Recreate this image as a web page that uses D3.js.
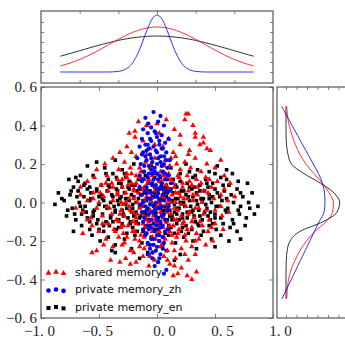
<!DOCTYPE html>
<html><head><meta charset="utf-8">
<script src="https://cdn.jsdelivr.net/npm/d3@7"></script>
<style>body{margin:0;background:#fff}svg{display:block}</style>
</head><body><svg id="c" width="345" height="341"></svg>
<script>
// ---------------- DATA ----------------
const seriesNames = ["shared memory", "private memory_zh", "private memory_en"];

const sharedPoints = [
[0.25,0.46],[0.27,0.46],[0.24,0.43],[0.08,0.43],[-0.16,0.42],[-0.09,0.4],[0.4,0.34],[0.33,0.36],[-0.19,0.37],[0.15,0.38],[0.02,0.36],
[0.33,0.34],[-0.19,0.34],[-0.26,0.29],[0.37,0.3],[0.43,0.28],[0.4,0.31],[-0.12,0.32],[0.2,0.3],[0.28,0.27],[-0.06,0.28],[0.1,0.33],[-0.32,0.26],[0.14,0.26],[0.46,0.27],[-0.22,0.26],[0.05,0.29],
[-0.45,0.2],[-0.38,0.23],[-0.33,0.17],[-0.28,0.21],[-0.23,0.18],[-0.18,0.24],[-0.14,0.16],[-0.1,0.21],[-0.06,0.18],[-0.02,0.23],[0.03,0.16],[0.07,0.22],[0.11,0.19],[0.16,0.24],[0.2,0.17],[0.24,0.21],[0.29,0.18],[0.33,0.23],[0.38,0.16],[0.43,0.2],[0.5,0.18],[-0.52,0.17],[0.27,0.25],[-0.26,0.15],[0.55,0.22],
[-0.6,0.11],[-0.54,0.13],[-0.48,0.09],[-0.43,0.14],[-0.39,0.1],[-0.34,0.12],[-0.3,0.08],[-0.26,0.13],[-0.22,0.1],[-0.18,0.14],[-0.15,0.08],[-0.11,0.12],[-0.08,0.1],[-0.04,0.14],[-0.01,0.08],[0.02,0.11],[0.05,0.14],[0.08,0.09],[0.12,0.12],[0.15,0.08],[0.19,0.13],[0.22,0.1],[0.26,0.14],[0.3,0.09],[0.34,0.12],[0.38,0.1],[0.42,0.13],[0.47,0.08],[0.52,0.11],[0.58,0.14],[0.63,0.1],[-0.66,0.08],[-0.2,0.07],[0.1,0.15],
[-0.66,0.04],[-0.6,0.01],[-0.55,0.05],[-0.5,0.0],[-0.46,0.03],[-0.42,0.06],[-0.38,0.01],[-0.34,0.04],[-0.31,0.0],[-0.27,0.05],[-0.24,0.02],[-0.2,0.06],[-0.17,0.0],[-0.14,0.04],[-0.11,0.01],[-0.08,0.05],[-0.05,0.02],[-0.02,0.06],[0.01,0.0],[0.04,0.03],[0.07,0.06],[0.1,0.01],[0.13,0.04],[0.16,0.0],[0.19,0.05],[0.23,0.02],[0.27,0.06],[0.31,0.01],[0.35,0.04],[0.39,0.0],[0.44,0.05],[0.49,0.02],[0.55,0.04],[0.61,0.01],[0.67,0.03],[-0.29,-0.01],[0.0,0.03],[-0.12,0.07],
[-0.64,-0.05],[-0.57,-0.08],[-0.52,-0.03],[-0.47,-0.07],[-0.43,-0.02],[-0.39,-0.06],[-0.35,-0.09],[-0.31,-0.04],[-0.28,-0.07],[-0.24,-0.02],[-0.21,-0.05],[-0.18,-0.08],[-0.15,-0.03],[-0.12,-0.06],[-0.09,-0.09],[-0.06,-0.04],[-0.03,-0.07],[0.0,-0.02],[0.03,-0.05],[0.06,-0.08],[0.09,-0.03],[0.12,-0.06],[0.15,-0.09],[0.18,-0.04],[0.21,-0.07],[0.25,-0.02],[0.28,-0.05],[0.32,-0.08],[0.36,-0.03],[0.4,-0.06],[0.45,-0.09],[0.5,-0.04],[0.56,-0.07],[0.62,-0.05],[-0.7,-0.03],[0.08,-0.01],[-0.02,-0.09],
[-0.64,-0.16],[-0.56,-0.12],[-0.5,-0.15],[-0.46,-0.22],[-0.42,-0.11],[-0.37,-0.14],[-0.33,-0.1],[-0.29,-0.16],[-0.25,-0.12],[-0.21,-0.15],[-0.18,-0.11],[-0.14,-0.17],[-0.1,-0.13],[-0.07,-0.1],[-0.04,-0.15],[-0.01,-0.12],[0.02,-0.17],[0.05,-0.13],[0.08,-0.1],[0.11,-0.15],[0.14,-0.12],[0.18,-0.16],[0.22,-0.11],[0.26,-0.14],[0.3,-0.1],[0.34,-0.16],[0.39,-0.12],[0.44,-0.15],[0.5,-0.11],[0.57,-0.14],[-0.31,-0.13],
[-0.56,-0.26],[-0.52,-0.25],[-0.44,-0.19],[-0.38,-0.23],[-0.33,-0.18],[-0.28,-0.21],[-0.23,-0.25],[-0.19,-0.19],[-0.15,-0.23],[-0.11,-0.18],[-0.08,-0.22],[-0.04,-0.26],[-0.01,-0.19],[0.03,-0.23],[0.06,-0.18],[0.09,-0.25],[0.13,-0.21],[0.17,-0.18],[0.21,-0.24],[0.25,-0.2],[0.3,-0.23],[0.36,-0.19],[0.42,-0.22],[0.48,-0.2],
[-0.4,-0.3],[-0.32,-0.31],[-0.23,-0.32],[-0.27,-0.29],[-0.18,-0.31],[-0.12,-0.28],[-0.07,-0.33],[-0.02,-0.3],[0.15,-0.33],[0.06,-0.28],[0.11,-0.32],[0.16,-0.29],[0.21,-0.34],[0.27,-0.3],[0.33,-0.27],
[0.3,-0.4],[0.26,-0.38],[0.14,-0.38],[0.18,-0.37],[0.34,-0.36],
[-0.34,0.05],[-0.32,-0.06],[-0.3,0.12],[-0.29,-0.12],[-0.27,0.0],[-0.26,-0.18],[-0.25,0.09],[-0.23,-0.04],[-0.22,0.15],[-0.21,-0.1],[-0.2,0.02],[-0.19,-0.15],[-0.18,0.1],[-0.17,-0.06],[-0.16,0.05],[-0.15,-0.2],[-0.14,0.13],[-0.13,-0.02],[-0.12,-0.11],[-0.11,0.08],[-0.1,-0.16],[-0.09,0.03],[-0.08,-0.07],[-0.07,0.12],[-0.06,-0.13],[-0.05,0.0],[-0.04,-0.18],[-0.03,0.09],[-0.02,-0.04],[-0.01,0.15],[0.0,-0.1],[0.01,0.05],[0.02,-0.15],[0.03,-0.01],[0.04,0.11],[0.05,-0.08],[0.06,0.02],[0.07,-0.19],[0.08,0.13],[0.09,-0.05],[0.1,0.07],[0.11,-0.12],[0.12,0.0],[0.13,-0.17],[0.14,0.1],[0.15,-0.03],[0.16,0.05],[0.17,-0.09],[0.18,0.14],[0.19,-0.14],[0.2,0.03],[0.21,-0.01],[0.22,0.08],[0.23,-0.1],[0.24,-0.17],[0.26,0.02],[0.27,-0.06],[0.28,0.11],[0.3,-0.13],[0.31,0.04],[0.33,-0.03],[0.35,0.08],[-0.36,-0.15],[-0.38,0.08],[-0.41,-0.03],[-0.44,0.1],[-0.47,-0.11],[-0.49,0.05],[0.37,-0.1],[0.4,0.06],[0.42,-0.04],[0.45,0.12],[0.47,-0.13],[-0.05,0.2],[0.06,0.19],[-0.15,0.18],[0.17,0.2],[-0.09,0.25],[0.12,0.23],[-0.02,0.3],[0.2,0.35],[-0.11,-0.24],[0.04,-0.22],[0.15,-0.25],[-0.2,-0.26],[0.24,-0.27],[-0.06,-0.28],[0.09,-0.3],[-0.3,-0.22],[0.33,-0.2],[-0.55,0.02],[0.55,-0.02],[-0.6,-0.09],[0.58,0.07],[0.0,0.41],[0.31,0.4],[-0.24,0.36]
];

const zhPoints = [
[-0.03,0.47],[-0.1,0.44],[0.03,0.45],[-0.075,0.41],[0.01,0.42],[-0.05,0.39],[0.06,0.4],[-0.12,0.38],
[-0.08,0.36],[-0.02,0.37],[0.04,0.35],[-0.13,0.33],[-0.05,0.32],[0.0,0.34],[0.07,0.31],[-0.1,0.3],[-0.03,0.29],[0.02,0.3],[0.1,0.33],[-0.07,0.28],[0.05,0.28],[-0.15,0.29],
[-0.12,0.26],[-0.06,0.25],[-0.01,0.27],[0.03,0.24],[0.08,0.26],[-0.09,0.22],[-0.04,0.21],[0.01,0.23],[0.06,0.2],[0.11,0.22],[-0.14,0.2],[-0.07,0.19],[-0.02,0.18],[0.04,0.19],[-0.1,0.24],[0.09,0.18],[-0.17,0.23],[0.0,0.2],
[-0.11,0.16],[-0.05,0.17],[0.0,0.15],[0.05,0.16],[-0.08,0.13],[-0.03,0.12],[0.02,0.14],[0.07,0.12],[-0.13,0.11],[-0.06,0.1],[-0.01,0.09],[0.04,0.1],[0.1,0.14],[-0.09,0.08],[0.03,0.08],[-0.15,0.14],[0.12,0.1],[-0.04,0.15],
[-0.1,0.06],[-0.05,0.05],[0.0,0.07],[0.05,0.04],[-0.08,0.02],[-0.02,0.03],[0.03,0.01],[0.08,0.06],[-0.12,0.0],[-0.06,-0.01],[-0.01,0.0],[0.04,-0.02],[-0.14,0.04],[0.1,0.02],[-0.03,-0.02],[0.01,0.05],
[-0.09,-0.04],[-0.04,-0.05],[0.01,-0.03],[0.06,-0.06],[-0.11,-0.08],[-0.06,-0.09],[-0.01,-0.07],[0.03,-0.1],[-0.08,-0.12],[-0.03,-0.11],[0.07,-0.09],[-0.13,-0.05],[0.0,-0.12],[0.09,-0.04],
[-0.07,-0.14],[-0.02,-0.15],[0.03,-0.13],[-0.1,-0.17],[-0.05,-0.19],[0.0,-0.17],[0.05,-0.18],[-0.08,-0.21],[-0.03,-0.22],[0.02,-0.2],[-0.12,-0.14],[0.07,-0.15],
[-0.06,-0.24],[-0.01,-0.25],[0.03,-0.27],[-0.04,-0.29],[0.01,-0.31],[-0.08,-0.27],[-0.02,-0.33],[0.08,-0.35],[0.06,-0.37],[0.05,-0.24],
[-0.06,0.33],[0.02,0.32],[-0.09,0.27],[0.0,0.26],[0.06,0.24],[-0.05,0.23],[-0.11,0.19],[0.03,0.21],[-0.02,0.16],[0.07,0.15],[-0.07,0.15],[-0.12,0.12],[0.01,0.12],[-0.04,0.09],[0.05,0.07],[-0.09,0.05],[0.0,0.03],[0.06,0.01],[-0.06,0.02],[-0.1,-0.02],[-0.02,-0.04],[0.04,-0.07],[-0.07,-0.06],[-0.12,-0.1],[0.0,-0.09],[0.05,-0.12],[-0.05,-0.13],[-0.09,-0.16],[0.02,-0.17],[-0.03,-0.19],[0.06,-0.21],[-0.06,-0.22],[0.0,-0.23],[-0.04,-0.26],[0.02,-0.29],[-0.08,0.3],[0.04,0.28],[-0.13,0.25],[0.08,0.22],[-0.01,0.36],[-0.14,-0.01],[0.11,0.06],[0.09,-0.14],[-0.15,0.08],[0.1,-0.02]
];

const enPoints = [
[-0.52,0.21],[-0.36,0.22],[-0.6,0.19],[-0.45,0.18],[-0.3,0.17],[-0.2,0.2],[0.12,0.18],[0.35,0.17],[0.52,0.19],[0.6,0.17],[-0.12,0.16],[0.25,0.2],[0.45,0.16],[-0.76,0.12],[0.65,0.15],[-0.05,0.19],
[-0.7,0.13],[-0.62,0.1],[-0.55,0.14],[-0.48,0.09],[-0.42,0.12],[-0.38,0.15],[-0.33,0.1],[-0.27,0.13],[-0.22,0.09],[-0.16,0.12],[-0.1,0.14],[-0.04,0.1],[0.03,0.13],[0.08,0.09],[0.14,0.12],[0.2,0.15],[0.26,0.1],[0.31,0.13],[0.37,0.09],[0.42,0.12],[0.48,0.1],[0.55,0.13],[0.62,0.09],[0.7,0.11],[-0.58,0.08],[-0.3,0.08],[0.17,0.08],[0.5,0.15],[-0.66,0.14],[0.78,0.1],
[-0.85,0.05],[-0.75,0.04],[-0.68,0.06],[-0.63,0.03],[-0.57,0.05],[-0.52,0.07],[-0.47,0.02],[-0.43,0.06],[-0.39,0.04],[-0.35,0.07],[-0.31,0.03],[-0.28,0.05],[-0.24,0.07],[-0.2,0.03],[-0.17,0.06],[-0.13,0.04],[-0.09,0.07],[-0.06,0.02],[-0.02,0.05],[0.02,0.07],[0.05,0.03],[0.09,0.05],[0.12,0.07],[0.16,0.02],[0.19,0.05],[0.23,0.06],[0.27,0.03],[0.3,0.07],[0.34,0.05],[0.38,0.02],[0.41,0.06],[0.45,0.04],[0.5,0.07],[0.54,0.03],[0.58,0.06],[0.64,0.04],[0.69,0.07],[0.74,0.03],[0.82,0.05],[-0.72,0.08],[-0.5,0.03],[-0.26,0.02],[0.07,0.08],[0.32,0.08],[0.6,0.02],[-0.41,0.08],
[-0.88,-0.01],[-0.8,0.01],[-0.73,-0.03],[-0.67,0.0],[-0.62,-0.02],[-0.58,0.01],[-0.54,-0.04],[-0.5,-0.01],[-0.46,0.01],[-0.43,-0.03],[-0.4,0.0],[-0.37,-0.02],[-0.34,0.01],[-0.3,-0.04],[-0.27,-0.01],[-0.24,0.01],[-0.21,-0.03],[-0.18,0.0],[-0.15,-0.02],[-0.12,0.01],[-0.08,-0.03],[-0.05,0.0],[-0.01,-0.02],[0.02,0.01],[0.06,-0.04],[0.1,-0.01],[0.13,0.01],[0.17,-0.03],[0.2,0.0],[0.24,-0.02],[0.28,0.01],[0.31,-0.04],[0.35,-0.01],[0.39,0.01],[0.43,-0.03],[0.47,0.0],[0.51,-0.02],[0.56,0.01],[0.61,-0.03],[0.66,0.0],[0.72,-0.02],[0.79,0.0],[0.87,-0.02],[-0.64,-0.04],[-0.32,0.02],[0.04,0.02],[0.45,0.02],[0.7,-0.04],[-0.77,-0.04],
[-0.78,-0.07],[-0.7,-0.09],[-0.65,-0.06],[-0.6,-0.08],[-0.55,-0.05],[-0.51,-0.09],[-0.47,-0.06],[-0.44,-0.1],[-0.4,-0.07],[-0.36,-0.05],[-0.33,-0.09],[-0.29,-0.06],[-0.25,-0.08],[-0.22,-0.05],[-0.18,-0.1],[-0.14,-0.07],[-0.11,-0.05],[-0.07,-0.09],[-0.03,-0.06],[0.0,-0.08],[0.04,-0.05],[0.08,-0.1],[0.11,-0.07],[0.15,-0.05],[0.19,-0.09],[0.22,-0.06],[0.26,-0.08],[0.3,-0.05],[0.33,-0.1],[0.37,-0.07],[0.41,-0.05],[0.46,-0.09],[0.5,-0.06],[0.55,-0.08],[0.6,-0.05],[0.65,-0.09],[0.71,-0.06],[0.77,-0.08],[0.84,-0.06],[-0.58,-0.1],[-0.2,-0.07],[0.13,-0.09],[0.44,-0.07],
[-0.65,-0.12],[-0.58,-0.14],[-0.52,-0.11],[-0.46,-0.15],[-0.41,-0.12],[-0.35,-0.14],[-0.3,-0.11],[-0.26,-0.16],[-0.21,-0.13],[-0.16,-0.11],[-0.12,-0.15],[-0.06,-0.12],[-0.02,-0.14],[0.03,-0.11],[0.07,-0.16],[0.12,-0.13],[0.17,-0.11],[0.21,-0.15],[0.25,-0.12],[0.3,-0.14],[0.35,-0.11],[0.4,-0.15],[0.45,-0.12],[0.51,-0.14],[0.57,-0.11],[0.63,-0.13],[0.69,-0.15],[0.76,-0.12],[-0.72,-0.15],[-0.38,-0.1],[0.0,-0.1],[0.27,-0.16],
[-0.49,-0.2],[-0.42,-0.18],[-0.36,-0.22],[-0.28,-0.19],[-0.19,-0.17],[-0.13,-0.21],[-0.05,-0.18],[0.02,-0.2],[0.1,-0.17],[0.16,-0.21],[0.23,-0.18],[0.31,-0.2],[0.38,-0.17],[0.47,-0.19],[0.55,-0.17],[0.62,-0.2],[0.72,-0.19],[-0.56,-0.17],[0.05,-0.22],
[-0.39,-0.25],[-0.36,-0.26],[-0.22,-0.24],[-0.08,-0.26],[0.08,-0.25],[0.2,-0.27],[0.34,-0.24],[0.5,-0.23],[0.15,-0.3],[-0.15,-0.29],
[-0.48,0.04],[-0.45,-0.02],[-0.42,0.09],[-0.4,-0.08],[-0.38,0.03],[-0.36,-0.04],[-0.34,0.06],[-0.33,-0.01],[-0.31,0.1],[-0.29,-0.07],[-0.27,0.02],[-0.26,-0.03],[-0.25,0.08],[-0.23,-0.1],[-0.22,0.04],[-0.21,-0.01],[-0.19,0.09],[-0.18,-0.05],[-0.16,0.02],[-0.15,-0.08],[-0.14,0.07],[-0.13,-0.02],[-0.11,0.05],[-0.1,-0.06],[-0.09,0.01],[-0.08,0.1],[-0.07,-0.04],[-0.06,0.06],[-0.05,-0.09],[-0.04,0.03],[-0.03,-0.01],[-0.02,0.08],[-0.01,-0.05],[0.0,0.04],[0.01,-0.08],[0.02,0.02],[0.03,-0.03],[0.04,0.09],[0.05,-0.06],[0.06,0.05],[0.07,-0.02],[0.08,0.03],[0.09,-0.09],[0.1,0.07],[0.11,-0.04],[0.12,0.01],[0.13,-0.07],[0.14,0.05],[0.15,-0.01],[0.16,0.09],[0.17,-0.06],[0.18,0.02],[0.19,-0.03],[0.21,0.06],[0.22,-0.08],[0.23,0.0],[0.25,0.04],[0.26,-0.05],[0.28,0.08],[0.29,-0.02],[0.31,0.03],[0.32,-0.07],[0.34,0.01],[0.36,-0.04],[0.37,0.06],[0.39,-0.09],[0.4,0.02],[0.42,-0.01],[0.44,0.08],[0.46,-0.05],[0.48,0.03],[0.5,-0.08],[0.52,0.05],[0.53,-0.02],[0.57,0.09],[0.59,-0.04],[-0.52,0.06],[-0.55,-0.07],[-0.57,0.02],[-0.6,0.07],[-0.61,-0.05],[-0.63,0.09],[-0.66,-0.02],[-0.69,0.03],[-0.71,-0.06],[-0.74,0.06],[-0.44,0.15],[-0.35,0.13],[-0.24,0.11],[-0.13,0.12],[-0.02,0.13],[0.09,0.12],[0.2,0.11],[0.33,0.14],[0.43,0.1],[-0.46,-0.12],[-0.33,-0.13],[-0.23,-0.11],[-0.1,-0.12],[0.01,-0.14],[0.1,-0.12],[0.22,-0.13],[0.36,-0.12],[0.48,-0.11],[-0.28,0.15],[0.05,0.16],[0.28,0.16],[-0.17,-0.15],[0.15,-0.16],[-0.5,-0.14],[0.6,0.12],[0.66,-0.11],[-0.68,0.11],[0.72,0.05],[0.8,-0.03],[-0.82,0.02]
];

const xTicks = [-1, -0.5, 0, 0.5, 1];
const xTickLabels = ["\u22121. 0", "\u22120. 5", "0. 0", "0. 5", "1. 0"];
const yTicks = [0.6, 0.4, 0.2, 0, -0.2, -0.4, -0.6];
const yTickLabels = ["0. 6", "0. 4", "0. 2", "0. 0", "\u22120. 2", "\u22120. 4", "\u22120. 6"];

// top marginal densities (x positions and values)
const topGrid = [-0.5,-0.475,-0.45,-0.425,-0.4,-0.375,-0.35,-0.325,-0.3,-0.275,-0.25,-0.225,-0.2,-0.175,-0.15,-0.125,-0.1,-0.075,-0.05,-0.025,0,
  0.025,0.05,0.075,0.1,0.125,0.15,0.175,0.2,0.225,0.25,0.275,0.3,0.325,0.35,0.375,0.4,0.425,0.45,0.475,0.5];
const topShared = [0.61,0.74,0.89,1.06,1.25,1.46,1.69,1.93,2.19,2.46,2.73,3.00,3.27,3.52,3.76,3.97,4.15,4.30,4.41,4.48,4.50,
  4.48,4.41,4.30,4.15,3.97,3.76,3.52,3.27,3.00,2.73,2.46,2.19,1.93,1.69,1.46,1.25,1.06,0.89,0.74,0.61];
const topZh = [0,0,0,0,0,0,0,0,0,0,0,0.02,0.06,0.17,0.43,0.95,1.81,2.99,4.28,5.31,5.70,
  5.31,4.28,2.99,1.81,0.95,0.43,0.17,0.06,0.02,0,0,0,0,0,0,0,0,0,0,0];
const topEn = [1.58,1.71,1.85,1.99,2.13,2.27,2.41,2.54,2.68,2.81,2.93,3.05,3.16,3.26,3.34,3.42,3.48,3.53,3.57,3.59,3.60,
  3.59,3.57,3.53,3.48,3.42,3.34,3.26,3.16,3.05,2.93,2.81,2.68,2.54,2.41,2.27,2.13,1.99,1.85,1.71,1.58];

// right marginal densities (y positions and values)
const rightGrid = [0.5,0.45,0.4,0.35,0.3,0.25,0.2,0.15,0.1,0.05,0,-0.05,-0.1,-0.15,-0.2,-0.25,-0.3,-0.35,-0.4,-0.45,-0.5];
const rightShared = [0.07,0.14,0.30,0.57,0.90,1.33,1.90,2.67,3.48,4.10,4.52,4.43,3.81,2.76,1.95,1.33,0.86,0.48,0.24,0.12,0.07];
const rightZh = [-0.42,0.08,0.58,1.09,1.59,2.10,2.59,3.10,3.46,3.67,3.71,3.62,3.15,2.70,2.27,1.83,1.38,0.94,0.50,0.06,-0.39];
const rightEn = [0,0,0,0.01,0.05,0.19,0.52,1.71,3.29,4.57,5.11,4.86,3.52,1.33,0.38,0.11,0.03,0,0,0,0];

const topYTicks = [0,1,2,3,4,5];
const topXTicks = [-0.4,-0.2,0,0.2,0.4];
const rightXTicks = [0,1,2,3,4,5];

// ---------------- LAYOUT / STYLE ----------------
const colors = ["#ff0000", "#0000ff", "#000000"];
const svg = d3.select("#c");
const M = {l:41, r:273, t:87, b:318};
const T = {l:41, r:273, t:11, b:83};
const R = {l:277, r:362, t:87, b:318};

const x = d3.scaleLinear().domain([-1, 1]).range([M.l, M.r]);
const y = d3.scaleLinear().domain([-0.6, 0.6]).range([M.b, M.t]);
const tx = d3.scaleLinear().domain([-0.6, 0.6]).range([T.l, T.r]);
const ty = d3.scaleLinear().domain([-1.1, 6.1]).range([T.b, T.t]);
const rx = d3.scaleLinear().domain([(R.l-286)/10.5, (R.r-286)/10.5]).range([R.l, R.r]);

const tickColor = "#808080", frameColor = "#555";

function styleAxis(g){
  g.select(".domain").remove();
  g.selectAll(".tick line").attr("stroke", tickColor).attr("stroke-width", 1);
  g.attr("font-family", "'Liberation Serif','DejaVu Serif',serif").attr("font-size", 15);
  g.selectAll(".tick text").attr("fill", "#222");
}

svg.append("defs").append("clipPath").attr("id","mclip").append("rect")
  .attr("x", M.l).attr("y", M.t).attr("width", M.r-M.l).attr("height", M.b-M.t);

// ---- scatter ----
const sc = svg.append("g").attr("clip-path","url(#mclip)");
const triSym = d3.symbol().type(d3.symbolTriangle).size(13);
const cirSym = d3.symbol().type(d3.symbolCircle).size(14);
const sqSym = d3.symbol().type(d3.symbolSquare).size(13);
const layers = [
  {pts: enPoints, sym: sqSym, color: colors[2]},
  {pts: sharedPoints, sym: triSym, color: colors[0]},
  {pts: zhPoints, sym: cirSym, color: colors[1]}
];
layers.forEach(L => {
  sc.append("g").selectAll("path").data(L.pts).join("path")
    .attr("d", L.sym())
    .attr("transform", d => `translate(${x(d[0])},${y(d[1])})`)
    .attr("fill", L.color);
});

// ---- main axes ----
svg.append("g").attr("transform", `translate(${M.l},0)`)
  .call(d3.axisLeft(y).tickValues(yTicks).tickFormat((d,i)=>yTickLabels[i]).tickSize(-4).tickPadding(4))
  .call(styleAxis);
svg.append("g").attr("transform", `translate(${M.r},0)`)
  .call(d3.axisRight(y).tickValues(yTicks).tickFormat("").tickSize(-4)).call(styleAxis);
const xb = svg.append("g").attr("transform", `translate(0,${M.b})`)
  .call(d3.axisBottom(x).tickValues(xTicks).tickFormat((d,i)=>xTickLabels[i]).tickSize(-4).tickPadding(7))
  .call(styleAxis);
xb.selectAll(".tick text").attr("dx", d => d < 0 ? -2 : 7);
svg.append("g").attr("transform", `translate(0,${M.t})`)
  .call(d3.axisTop(x).tickValues(xTicks).tickFormat("").tickSize(-4)).call(styleAxis);

// ---- legend ----
const legRows = [272, 289.5, 307];
const legSyms = [
  d3.symbol().type(d3.symbolTriangle).size(15),
  d3.symbol().type(d3.symbolCircle).size(17),
  d3.symbol().type(d3.symbolSquare).size(16)
];
const legX = [48.5, 56, 63.5];
const legDy = [1, 0, 1.4];
const leg = svg.append("g");
seriesNames.forEach((name, i) => {
  legX.forEach((lx, k) => {
    leg.append("path").attr("d", legSyms[i]())
      .attr("transform", `translate(${lx},${legRows[i] + legDy[k]})`)
      .attr("fill", colors[i]);
  });
  leg.append("text").attr("x", 75).attr("y", legRows[i]).attr("dy", "0.35em")
    .attr("font-family", "'DejaVu Sans',sans-serif").attr("font-size", 11)
    .attr("fill", "#111").text(name);
});

// ---- top marginal ----
const topLine = d3.line().x((d,i)=>tx(topGrid[i])).y(d=>ty(d)).curve(d3.curveMonotoneX);
[[topEn, colors[2]], [topShared, colors[0]], [topZh, colors[1]]].forEach(([arr, c]) => {
  svg.append("path").attr("d", topLine(arr)).attr("fill","none").attr("stroke", c)
    .attr("stroke-width", 1).attr("stroke-opacity", 0.8);
});
svg.append("g").attr("transform", `translate(${T.l},0)`)
  .call(d3.axisLeft(ty).tickValues(topYTicks).tickFormat("").tickSize(-3)).call(styleAxis);
svg.append("g").attr("transform", `translate(${T.r},0)`)
  .call(d3.axisRight(ty).tickValues(topYTicks).tickFormat("").tickSize(-3)).call(styleAxis);
svg.append("g").attr("transform", `translate(0,${T.b})`)
  .call(d3.axisBottom(tx).tickValues(topXTicks).tickFormat("").tickSize(-3)).call(styleAxis);
svg.append("g").attr("transform", `translate(0,${T.t})`)
  .call(d3.axisTop(tx).tickValues(topXTicks).tickFormat("").tickSize(-3)).call(styleAxis);

// ---- right marginal ----
const rightLine = d3.line().x(d=>rx(d)).y((d,i)=>y(rightGrid[i])).curve(d3.curveMonotoneY);
[[rightEn, colors[2]], [rightShared, colors[0]], [rightZh, colors[1]]].forEach(([arr, c]) => {
  svg.append("path").attr("d", rightLine(arr)).attr("fill","none").attr("stroke", c)
    .attr("stroke-width", 1).attr("stroke-opacity", 0.8);
});
svg.append("g").attr("transform", `translate(0,${R.b})`)
  .call(d3.axisBottom(rx).tickValues(rightXTicks).tickFormat("").tickSize(-3)).call(styleAxis);
svg.append("g").attr("transform", `translate(0,${R.t})`)
  .call(d3.axisTop(rx).tickValues(rightXTicks).tickFormat("").tickSize(-3)).call(styleAxis);

// ---- frames ----
[[M.l,M.t,M.r-M.l,M.b-M.t],[T.l,T.t,T.r-T.l,T.b-T.t],[R.l,R.t,R.r-R.l,R.b-R.t]].forEach(b => {
  svg.append("rect").attr("x", b[0]).attr("y", b[1]).attr("width", b[2]).attr("height", b[3])
    .attr("fill","none").attr("stroke", frameColor).attr("stroke-width", 1.2);
});
</script></body></html>
